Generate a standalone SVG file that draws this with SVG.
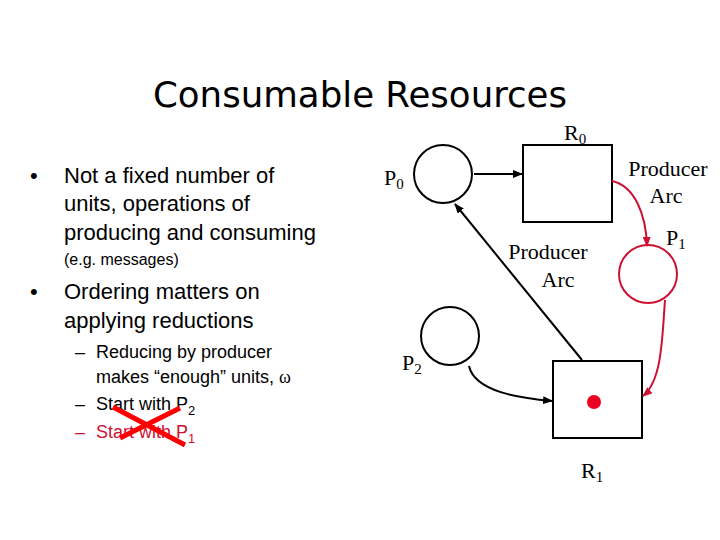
<svg xmlns="http://www.w3.org/2000/svg" width="720" height="540" viewBox="0 0 720 540">
<style>
.t{font-family:"Liberation Sans",Arial,sans-serif;fill:#000}
.s{font-family:"Liberation Serif","Times New Roman",serif;font-size:22px;fill:#000}
.n{fill:none;stroke:#000;stroke-width:2}
.r{fill:none;stroke:#cc1133;stroke-width:2}
.c{fill:none;stroke:#000;stroke-width:2}
</style>
<defs>
<marker id="ab" markerWidth="10" markerHeight="8" refX="9" refY="4" orient="auto" markerUnits="userSpaceOnUse"><path d="M0,0 L10,4 L0,8 Z" fill="#000"/></marker>
<marker id="ar" markerWidth="10" markerHeight="8" refX="9" refY="4" orient="auto" markerUnits="userSpaceOnUse"><path d="M0,0 L10,4 L0,8 Z" fill="#cc1133"/></marker>
</defs>
<rect width="720" height="540" fill="#fff"/>
<text x="360" y="107" text-anchor="middle" font-family="DejaVu Sans,sans-serif" font-size="36" fill="#000" textLength="414" lengthAdjust="spacingAndGlyphs">Consumable Resources</text>
<g id="bullets" class="t">
<text x="30" y="183" font-size="22">•</text>
<text x="64" y="183" font-size="22">Not a fixed number of</text>
<text x="64" y="211" font-size="22">units, operations of</text>
<text x="64" y="240" font-size="22">producing and consuming</text>
<text x="64" y="265" font-size="16">(e.g. messages)</text>
<text x="30" y="299" font-size="22">•</text>
<text x="64" y="299" font-size="22">Ordering matters on</text>
<text x="64" y="328" font-size="22">applying reductions</text>
<text x="75" y="358" font-size="18">–</text>
<text x="96" y="358" font-size="18">Reducing by producer</text>
<text x="96" y="383" font-size="18">makes “enough” units, <tspan font-family="Liberation Serif,serif">ω</tspan></text>
<text x="75" y="410" font-size="18">–</text>
<text x="96" y="410" font-size="18">Start with P<tspan font-size="13" dy="5">2</tspan></text>
<text x="75" y="438" font-size="18" fill="#cc1133">–</text>
<text x="96" y="438" font-size="18" fill="#cc1133" style="fill:#cc1133">Start with P<tspan font-size="13" dy="5">1</tspan></text>
</g>
<g id="cross" stroke="#ff0000" stroke-width="5">
<line x1="113" y1="407" x2="185" y2="445"/>
<line x1="120" y1="438" x2="180" y2="408"/>
</g>
<g id="P0"><circle class="n" cx="443" cy="174" r="29"/><text class="s" x="384" y="185">P<tspan font-size="15" dy="4">0</tspan></text></g>
<g id="R0"><rect class="n" x="523" y="145" width="89" height="77"/><text class="s" x="564" y="140">R<tspan font-size="15" dy="4">0</tspan></text></g>
<g id="P1"><circle class="r" cx="648" cy="274" r="29"/><text class="s" x="666" y="245">P<tspan font-size="15" dy="4">1</tspan></text></g>
<g id="P2"><circle class="n" cx="450" cy="336" r="29"/><text class="s" x="402" y="370">P<tspan font-size="15" dy="4">2</tspan></text></g>
<g id="R1"><rect class="n" x="553" y="361" width="89" height="77"/><circle cx="594" cy="402" r="7" fill="#ee0022"/><text class="s" x="581" y="478">R<tspan font-size="15" dy="4">1</tspan></text></g>
<g id="connectors">
<line class="c" x1="474" y1="174" x2="522" y2="174" marker-end="url(#ab)"/>
<path class="r" d="M612,181 C635,186 646,215 647,246" marker-end="url(#ar)"/>
<path class="r" d="M665,300 C662,340 662,380 643,396" marker-end="url(#ar)"/>
<path class="c" d="M469,366 C475,392 520,398 552,401" marker-end="url(#ab)"/>
<line class="c" x1="582" y1="360" x2="455" y2="204" marker-end="url(#ab)"/>
<text class="s" x="668" y="176" text-anchor="middle">Producer</text>
<text class="s" x="666" y="203" text-anchor="middle">Arc</text>
<text class="s" x="548" y="259" text-anchor="middle">Producer</text>
<text class="s" x="558" y="287" text-anchor="middle">Arc</text>
</g>
</svg>
